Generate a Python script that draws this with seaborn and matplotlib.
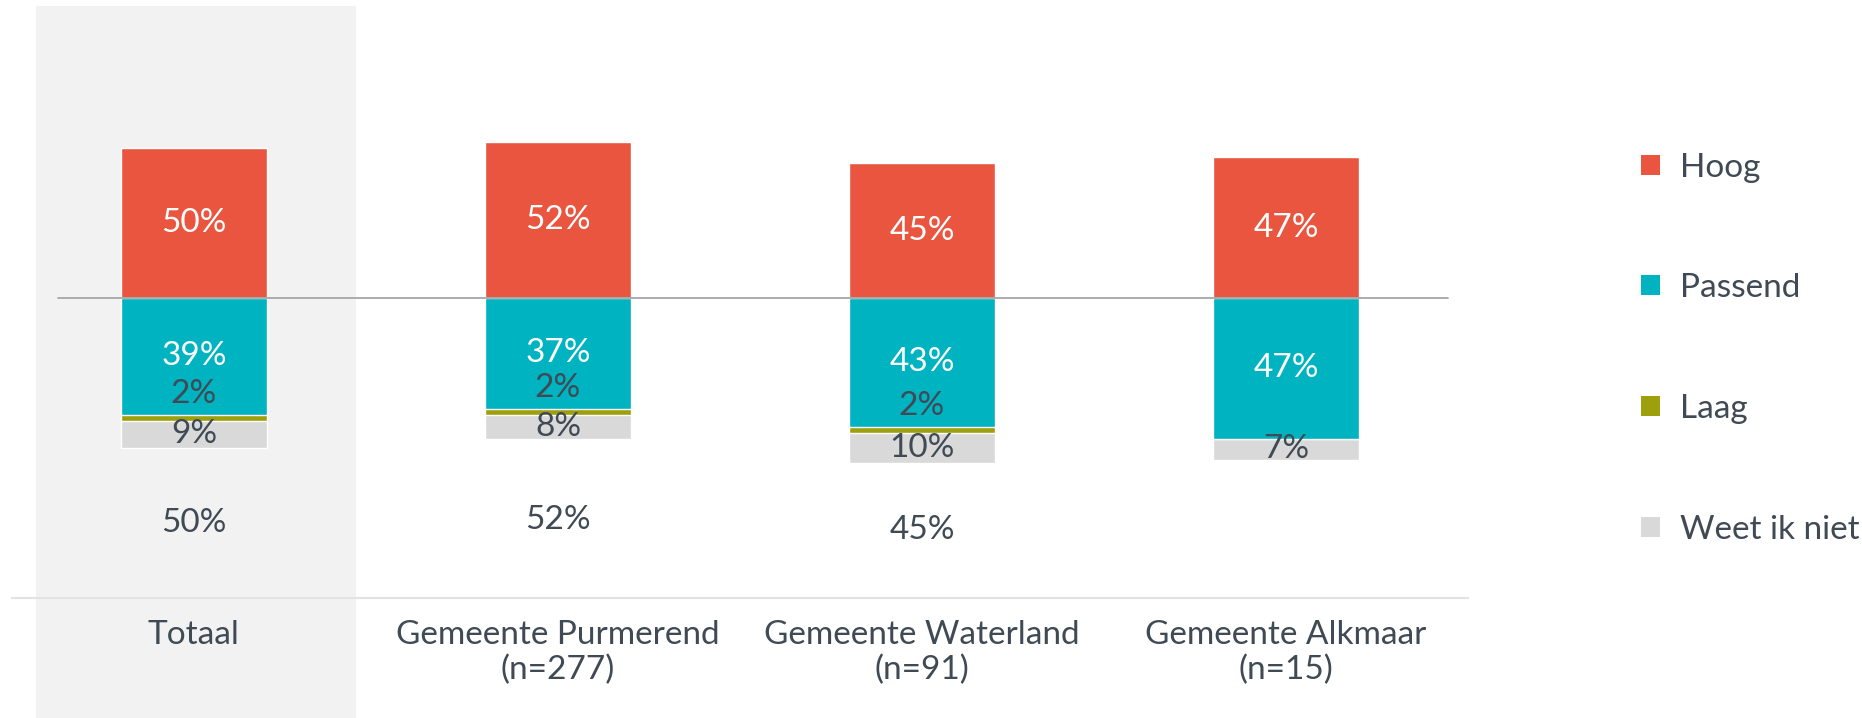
import pandas as pd
import matplotlib.pyplot as plt
import seaborn as sns
from matplotlib.patches import Patch

sns.set_style("white")
plt.rcParams['font.family'] = ['Lato', 'DejaVu Sans']

# data
categories = ["Totaal", "Gemeente Purmerend\n(n=277)", "Gemeente Waterland\n(n=91)", "Gemeente Alkmaar\n(n=15)"]
hoog = [50, 52, 45, 47]
passend = [39, 37, 43, 47]
laag = [2, 2, 2, 0]
weet_niet = [9, 8, 10, 7]
hidden_total = [50, 52, 45, None]   # grey label under the bar (hidden series)

series_names = ["Hoog", "Passend", "Laag", "Weet ik niet"]
colors = {"Hoog": "#E9553F", "Passend": "#00B3C1", "Laag": "#9DA00C", "Weet ik niet": "#D9D9D9"}
text_dark = "#3F4A54"

df = pd.DataFrame({"cat": categories, "Hoog": hoog, "Passend": passend,
                   "Laag": laag, "Weet ik niet": weet_niet})
df["neg_p"] = -df["Passend"]
df["neg_pl"] = -(df["Passend"] + df["Laag"])
df["neg_plw"] = -(df["Passend"] + df["Laag"] + df["Weet ik niet"])

fig = plt.figure(figsize=(18.62, 7.18), dpi=100)
ax = fig.add_axes([0.0064, 0.1678, 0.782, 0.8322])

# highlighted "Totaal" column
ax.axvspan(-0.434, 0.445, ymin=-0.2017, ymax=0.99, color="#F2F2F2", zorder=0, clip_on=False, lw=0)

w = 0.4
sns.barplot(data=df, x="cat", y="Hoog", color=colors["Hoog"], saturation=1, width=w, ax=ax, zorder=2)
sns.barplot(data=df, x="cat", y="neg_plw", color=colors["Weet ik niet"], saturation=1, width=w, ax=ax, zorder=2)
sns.barplot(data=df, x="cat", y="neg_pl", color=colors["Laag"], saturation=1, width=w, ax=ax, zorder=2)
sns.barplot(data=df, x="cat", y="neg_p", color=colors["Passend"], saturation=1, width=w, ax=ax, zorder=2)

fs = 24
for i in range(len(categories)):
    ax.text(i, hoog[i] / 2, f"{hoog[i]}%", ha="center", va="center", color="white", fontsize=fs, zorder=5)
    ax.text(i, -passend[i] / 2, f"{passend[i]}%", ha="center", va="center", color="white", fontsize=fs, zorder=5)
    if laag[i] > 0:
        ax.text(i, -passend[i] - laag[i] / 2 + 8, f"{laag[i]}%", ha="center", va="center",
                color=text_dark, fontsize=fs, zorder=5)
    base = passend[i] + laag[i]
    ax.text(i, -base - weet_niet[i] / 2, f"{weet_niet[i]}%", ha="center", va="center",
            color=text_dark, fontsize=fs, zorder=5)
    if hidden_total[i] is not None:
        ax.text(i, -(100 - hidden_total[i] / 2), f"{hidden_total[i]}%", ha="center", va="center",
                color=text_dark, fontsize=fs, zorder=5)

# zero line
ax.axhline(0, xmin=0.0316, xmax=0.986, color="#A6A6A6", lw=1.3, zorder=4)

ax.set_xlim(-0.5, 3.5)
ax.set_ylim(-100, 99.5)
ax.set_xlabel("")
ax.set_ylabel("")
ax.set_yticks([])
ax.tick_params(axis="x", length=0, pad=16, labelsize=fs, labelcolor=text_dark)
for s in ["top", "left", "right"]:
    ax.spines[s].set_visible(False)
ax.spines["bottom"].set_color("#E3E3E3")
ax.spines["bottom"].set_linewidth(1.5)
ax.patch.set_alpha(0)

handles = [Patch(facecolor=colors[n], edgecolor="none", label=n) for n in series_names]
fig.legend(handles=handles, loc="center left", bbox_to_anchor=(0.8815, 0.5146), frameon=False,
           fontsize=fs, labelcolor=text_dark, handlelength=0.55, handleheight=0.55,
           handletextpad=0.6, labelspacing=2.72, borderpad=0, borderaxespad=0)

plt.savefig("out.png", dpi=100)
